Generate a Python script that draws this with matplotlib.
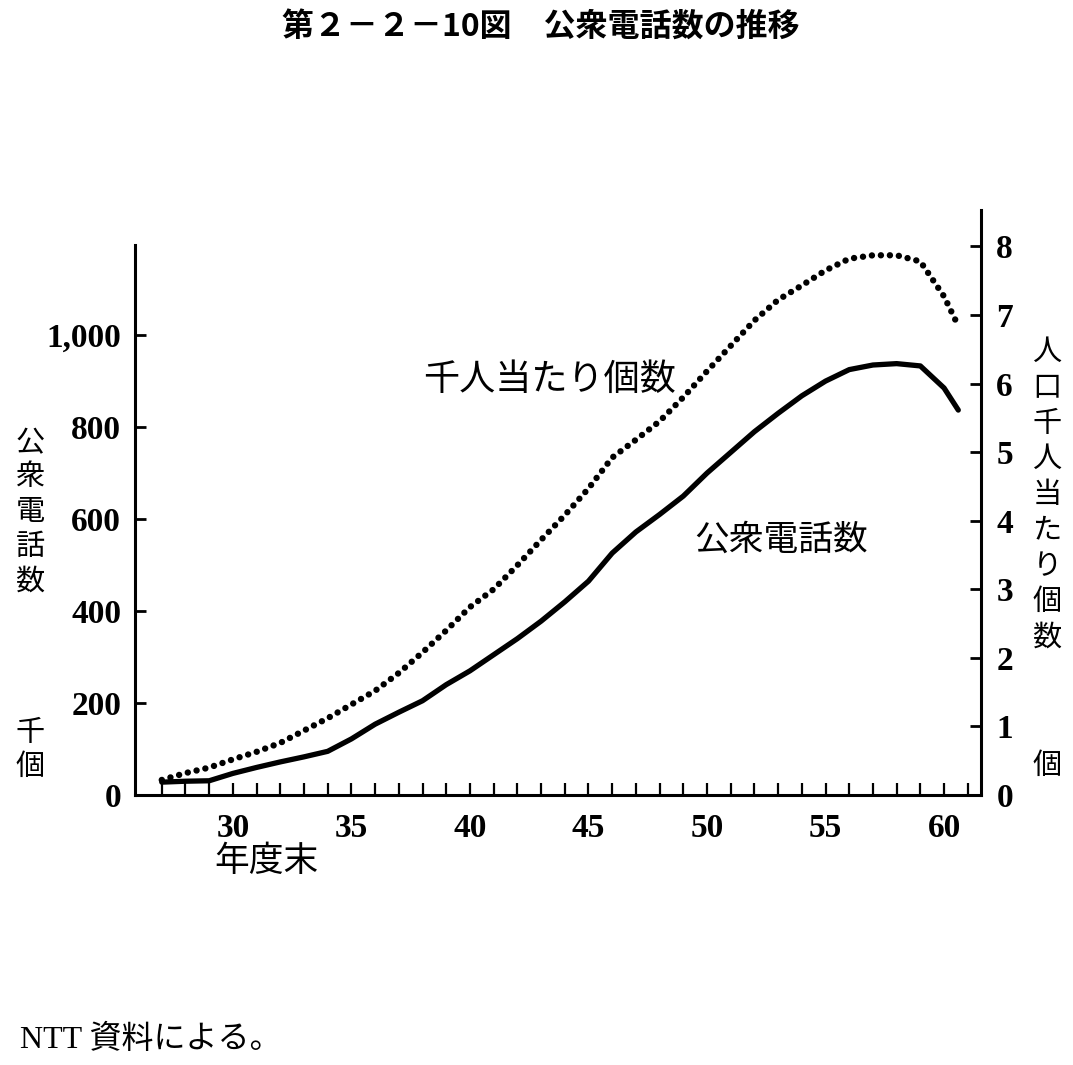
import numpy as np
import matplotlib
matplotlib.use("Agg")
import matplotlib.pyplot as plt
from matplotlib.ticker import FixedLocator, FuncFormatter

plt.rcParams['font.family'] = ['Noto Sans CJK JP', 'DejaVu Sans']

years = [27, 28, 29, 30, 31, 32, 33, 34, 35, 36, 37, 38, 39, 40, 41, 42, 43,
         44, 45, 46, 47, 48, 49, 50, 51, 52, 53, 54, 55, 56, 57, 58, 59, 60, 60.6]
# 公衆電話数 (千個)
phones = [28, 30, 31, 47, 60, 72, 83, 95, 122, 154, 180, 205, 240, 270, 305, 340, 378,
          420, 465, 526, 572, 610, 650, 700, 745, 790, 830, 868, 900, 925, 935, 938, 933, 885, 837]
# 人口千人当たり個数 (個)
per_1000 = [0.22, 0.32, 0.40, 0.52, 0.63, 0.76, 0.94, 1.12, 1.32, 1.52, 1.78, 2.08, 2.40,
            2.74, 3.00, 3.35, 3.72, 4.08, 4.47, 4.92, 5.18, 5.45, 5.80, 6.18, 6.55, 6.92,
            7.22, 7.43, 7.65, 7.82, 7.87, 7.87, 7.78, 7.27, 6.84]

left_ticks = [0, 200, 400, 600, 800, 1000]
right_ticks = [0, 1, 2, 3, 4, 5, 6, 7, 8]
x_major = [30, 35, 40, 45, 50, 55, 60]
x_minor = list(range(27, 62))

num_font = dict(family='Liberation Serif', weight='bold', size=24)

fig = plt.figure(figsize=(10.73, 10.65), dpi=100)
ax = fig.add_axes([0.1258, 0.2535, 0.7885, 0.5493])
ax2 = ax.twinx()

ax.plot(years, phones, color='black', lw=3.8, solid_capstyle='round', solid_joinstyle='round')
ax2.plot(years, per_1000, color='black', lw=4.6, linestyle=(0, (0.01, 1.4)),
         dash_capstyle='round')

ax.set_xlim(25.87, 61.56)
ax.set_ylim(0, 1272)
ax2.set_ylim(0, 8.53)

for a in (ax, ax2):
    a.spines['top'].set_visible(False)
    for s in a.spines.values():
        s.set_linewidth(2.2)
ax.spines['right'].set_visible(False)
ax2.spines['left'].set_visible(False)
ax2.spines['bottom'].set_visible(False)
ax.spines['left'].set_bounds(0, 1196)

ax.yaxis.set_major_locator(FixedLocator(left_ticks))
ax.yaxis.set_major_formatter(FuncFormatter(lambda v, p: '{:,}'.format(int(v))))
ax2.yaxis.set_major_locator(FixedLocator(right_ticks))
ax.xaxis.set_major_locator(FixedLocator(x_major))
ax.xaxis.set_minor_locator(FixedLocator(x_minor))

ax.tick_params(axis='y', direction='in', length=8, width=2, pad=10)
ax2.tick_params(axis='y', direction='in', length=8, width=2, pad=11)
ax.tick_params(axis='x', which='both', direction='in', length=9, width=1.6, pad=13)

for lab in ax.get_yticklabels() + ax2.get_yticklabels() + ax.get_xticklabels():
    lab.set_fontproperties(matplotlib.font_manager.FontProperties(**num_font))

# labels and annotations
def px(x, y):
    return x / 1073, 1 - y / 1065

fig.text(*px(541, 28), '第２－２－10図　公衆電話数の推移', ha='center', va='center',
         fontsize=23, weight='bold')
fig.text(*px(550, 380), '千人当たり個数', ha='center', va='center', fontsize=26)
fig.text(*px(781, 540), '公衆電話数', ha='center', va='center', fontsize=25)
fig.text(*px(266, 862), '年度末', ha='center', va='center', fontsize=25)
fig.text(*px(30, 512), '\n'.join('公衆電話数'), ha='center', va='center', fontsize=21,
         linespacing=1.2)
fig.text(*px(30, 750), '千\n個', ha='center', va='center', fontsize=21, linespacing=1.2)
fig.text(*px(1047, 495), '\n'.join('人口千人当たり個数'), ha='center', va='center',
         fontsize=21, linespacing=1.25)
fig.text(*px(1047, 766), '個', ha='center', va='center', fontsize=21)
fig.text(*px(20, 1040), 'NTT 資料による。', ha='left', va='center', fontsize=23,
         family=['Liberation Serif', 'Noto Sans CJK JP'])

fig.savefig('out.png', dpi=100)
